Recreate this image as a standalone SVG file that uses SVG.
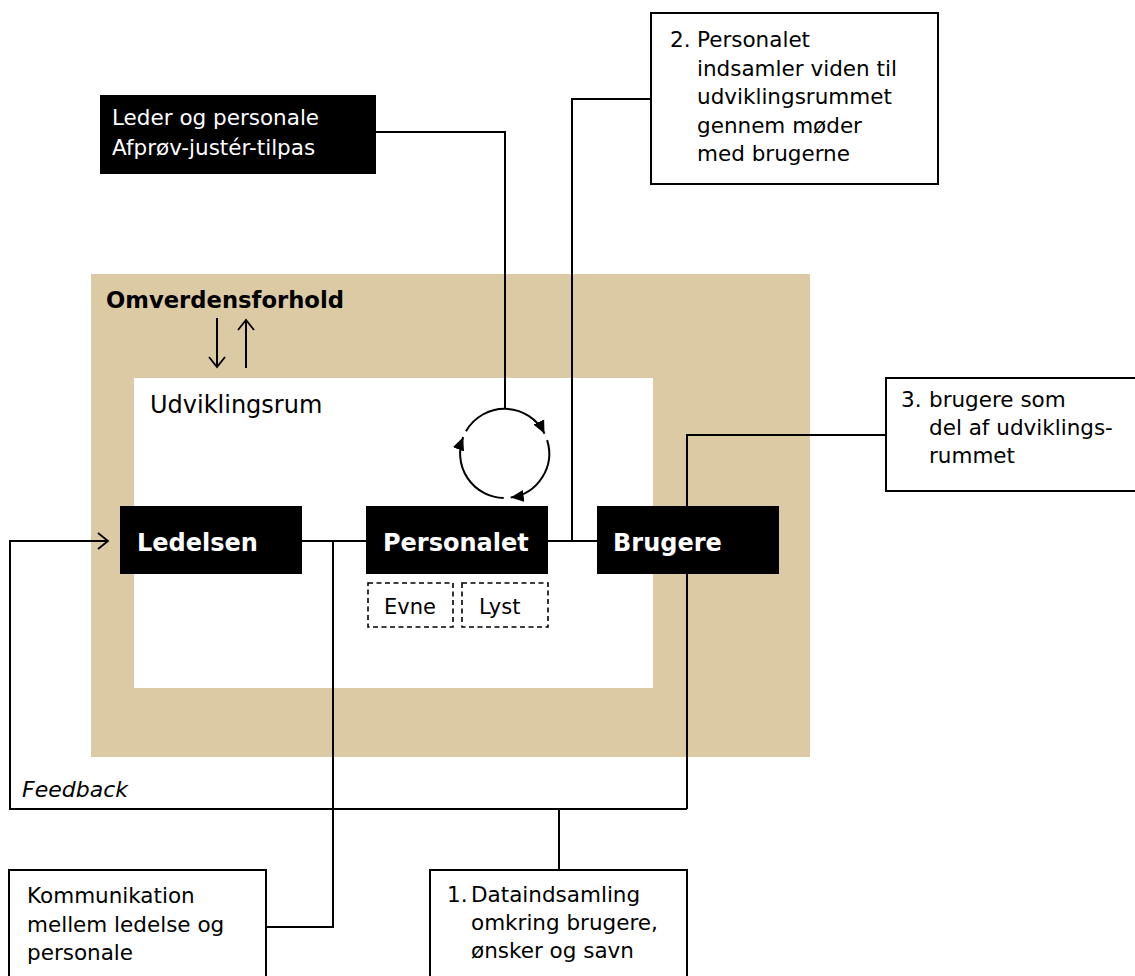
<svg xmlns="http://www.w3.org/2000/svg" width="1135" height="976" viewBox="0 0 1135 976">
  <style>
    .t { font-family: "DejaVu Sans", "Liberation Sans", sans-serif; font-size: 21.5px; fill: #000; }
    .tw { font-family: "DejaVu Sans", "Liberation Sans", sans-serif; font-size: 21.5px; fill: #fff; }
    .tb { font-family: "DejaVu Sans", "Liberation Sans", sans-serif; font-size: 24px; font-weight: bold; fill: #fff; }
    .box { fill: #fff; stroke: #000; stroke-width: 2; }
    .dash { fill: #fff; stroke: #000; stroke-width: 1.6; stroke-dasharray: 5 3.5; }
    .blk { fill: #000; }
    .ln { fill: none; stroke: #000; stroke-width: 2; }
  </style>
  <defs>
    <marker id="tri" viewBox="0 0 13 13" refX="13" refY="6.5" markerWidth="13" markerHeight="13" markerUnits="userSpaceOnUse" orient="auto">
      <path d="M0,0.5 L13,6.5 L0,12.5 z" fill="#000"/>
    </marker>
    <marker id="chev" viewBox="-2 -2 14 20" refX="10" refY="8" markerWidth="14" markerHeight="20" markerUnits="userSpaceOnUse" orient="auto">
      <path d="M0,0 L10,8 L0,16" fill="none" stroke="#000" stroke-width="1.8"/>
    </marker>
  </defs>

  <!-- background areas -->
  <g id="omverden">
    <rect x="91" y="274" width="719" height="483" fill="#DCCAA4"/>
    <text x="106" y="308" class="t" style="font-weight:bold;font-size:22.7px">Omverdensforhold</text>
  </g>
  <g id="udviklingsrum">
    <rect x="134" y="378" width="519" height="310" fill="#fff"/>
    <text x="150" y="413" class="t" style="font-size:24px">Udviklingsrum</text>
  </g>

  <!-- connectors -->
  <g id="connectors">
    <line x1="217" y1="318" x2="217" y2="367" class="ln" marker-end="url(#chev)"/>
    <line x1="246" y1="368" x2="246" y2="320" class="ln" marker-end="url(#chev)"/>
    <polyline points="376,132 505,132 505,409" class="ln"/>
    <path d="M465.96,431.25 A44.5,44.5 0 0 1 544.5,433.6" class="ln" marker-end="url(#tri)"/>
    <path d="M547.1,440.1 A44.5,44.5 0 0 1 510.7,497.6" class="ln" marker-end="url(#tri)"/>
    <path d="M503.7,498 A44.5,44.5 0 0 1 463.2,437.2" class="ln" marker-end="url(#tri)"/>
    <line x1="302" y1="541" x2="366" y2="541" class="ln"/>
    <line x1="548" y1="541" x2="597" y2="541" class="ln"/>
    <polyline points="651,99 572,99 572,541" class="ln"/>
    <polyline points="886,435 687,435 687,809" class="ln"/>
    <polyline points="687,809 10,809 10,541 108,541" class="ln" marker-end="url(#chev)"/>
    <polyline points="333,541 333,927 266,927" class="ln"/>
    <line x1="559" y1="809" x2="559" y2="870" class="ln"/>
    <text x="22" y="797" class="t" style="font-style:italic;font-size:22px">Feedback</text>
  </g>

  <g id="leder">
    <rect x="100" y="95" width="276" height="79" class="blk"/>
    <text x="112" y="125" class="tw">Leder og personale</text>
    <text x="112" y="155" class="tw">Afprøv-justér-tilpas</text>
  </g>

  <g id="step2">
    <rect x="651" y="13" width="287" height="171" class="box"/>
    <text x="670" y="47" class="t">2.</text>
    <text x="697" y="47" class="t">Personalet</text>
    <text x="697" y="75.5" class="t">indsamler viden til</text>
    <text x="697" y="104" class="t">udviklingsrummet</text>
    <text x="697" y="132.5" class="t">gennem møder</text>
    <text x="697" y="161" class="t">med brugerne</text>
  </g>

  <g id="step3">
    <rect x="886" y="378" width="260" height="113" class="box"/>
    <text x="901" y="407" class="t">3.</text>
    <text x="929" y="407" class="t">brugere som</text>
    <text x="929" y="435" class="t">del af udviklings-</text>
    <text x="929" y="463" class="t">rummet</text>
  </g>

  <g id="ledelsen">
    <rect x="120" y="506" width="182" height="68" class="blk"/>
    <text x="137" y="551" class="tb">Ledelsen</text>
  </g>
  <g id="personalet">
    <rect x="366" y="506" width="182" height="68" class="blk"/>
    <text x="383" y="551" class="tb">Personalet</text>
  </g>
  <g id="brugere">
    <rect x="597" y="506" width="182" height="68" class="blk"/>
    <text x="613" y="551" class="tb">Brugere</text>
  </g>

  <g id="evne">
    <rect x="368" y="583" width="85" height="44" class="dash"/>
    <text x="384" y="614" class="t" style="font-size:21px">Evne</text>
  </g>
  <g id="lyst">
    <rect x="462" y="583" width="86" height="44" class="dash"/>
    <text x="479" y="614" class="t" style="font-size:21px">Lyst</text>
  </g>

  <g id="kommunikation">
    <rect x="9" y="870" width="257" height="120" class="box"/>
    <text x="27" y="903" class="t">Kommunikation</text>
    <text x="27" y="932" class="t">mellem ledelse og</text>
    <text x="27" y="960" class="t">personale</text>
  </g>

  <g id="step1">
    <rect x="430" y="870" width="257" height="120" class="box"/>
    <text x="447" y="902" class="t">1.</text>
    <text x="471" y="902" class="t">Dataindsamling</text>
    <text x="471" y="930" class="t">omkring brugere,</text>
    <text x="471" y="958" class="t">ønsker og savn</text>
  </g>
</svg>
